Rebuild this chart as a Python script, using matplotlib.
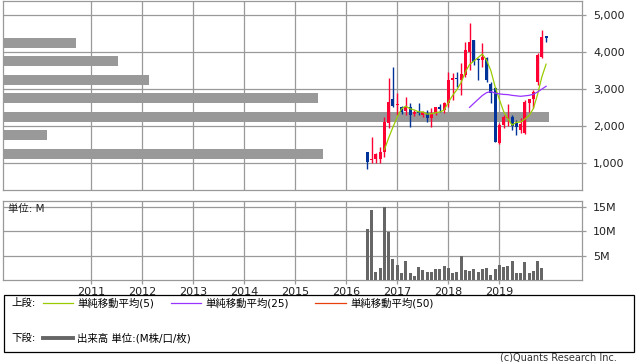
import matplotlib
matplotlib.use('Agg')
import matplotlib.pyplot as plt
import numpy as np
import pandas as pd
from matplotlib.patches import Rectangle
from matplotlib.lines import Line2D

plt.rcParams['font.family'] = ['DejaVu Sans', 'Noto Sans CJK JP']

# ---------------- data ----------------
months = pd.period_range('2016-06', '2019-12', freq='M')
opens  = [1300, 1090, 1100, 1100, 1310, 2070, 2730, 2560, 2520, 2410, 2510, 2320, 2390, 2300, 2340,
          2210, 2350, 2510, 2430, 2610, 3250, 3300, 3240, 3380, 4010, 4330, 3790, 3780, 3830, 3140,
          3020, 1530, 2030, 2220, 2250, 2090, 1880, 1800, 2610, 2720, 3200, 3860, 4410]
highs  = [1310, 1710, 1270, 1440, 2250, 3290, 3600, 2880, 2550, 2790, 2610, 2430, 2610, 2410, 2430,
          2480, 2510, 2600, 2660, 3470, 3420, 3470, 3690, 4280, 4780, 4330, 3840, 4250, 3860, 3200,
          3050, 2070, 2300, 2600, 2300, 2160, 2210, 2690, 2730, 2960, 3960, 4600, 4430]
lows   = [840, 990, 990, 1000, 1170, 1940, 2500, 2300, 2330, 2300, 1960, 2270, 2300, 2250, 2120,
          1960, 2300, 2390, 2360, 2520, 2700, 3060, 2840, 3330, 3510, 3650, 3240, 3600, 3200, 2610,
          1570, 1510, 1940, 2000, 1890, 1760, 1800, 1780, 2390, 2480, 3110, 3830, 4280]
closes = [1040, 1110, 1240, 1300, 2120, 2660, 2540, 2600, 2390, 2500, 2300, 2380, 2340, 2380, 2210,
          2350, 2500, 2450, 2630, 3240, 3290, 3280, 3410, 4050, 4280, 3740, 3770, 3870, 3240, 2880,
          1580, 2030, 2250, 2250, 2000, 1980, 2050, 2660, 2720, 2930, 3920, 4400, 4390]
volume_m = [10.4, 14.3, 1.6, 2.4, 14.9, 9.9, 4.3, 3.1, 1.4, 3.9, 1.4, 0.8, 2.7, 2.0, 1.6,
            1.6, 2.2, 2.2, 2.9, 2.4, 1.4, 1.6, 4.9, 2.0, 1.8, 2.2, 1.6, 2.2, 2.4, 1.0,
            2.2, 3.1, 2.7, 2.9, 3.9, 1.4, 1.4, 3.7, 1.4, 1.8, 3.9, 2.4, 0.1]

band_prices = [4250, 3750, 3250, 2750, 2250, 1750, 1250]
band_volume = [6.5, 10.2, 12.9, 27.9, 48.3, 3.9, 28.3]

years = list(range(2011, 2020))
year_labels = [str(y) for y in years]
price_ticks = [1000, 2000, 3000, 4000, 5000]
price_labels = ['1,000', '2,000', '3,000', '4,000', '5,000']
vol_ticks = [5, 10, 15]
vol_labels = ['5M', '10M', '15M']

ma_labels = ['単純移動平均(5)', '単純移動平均(25)', '単純移動平均(50)']
vol_legend = '出来高 単位:(M株/口/枚)'

# ---------------- styles ----------------
W, H = 638, 362
UP = '#ff0033'
DOWN = '#003399'
MA5_C = '#99cc00'
MA25_C = '#9933ff'
MA50_C = '#e8400c'
GRID = '#999999'
BAND = '#999999'
VOLC = '#666666'

x = np.array([p.year + (p.month - 1) / 12 for p in months])
o = np.array(opens); h = np.array(highs); l = np.array(lows); c = np.array(closes)
ma5 = pd.Series(c).rolling(5).mean()
ma25 = pd.Series(c).rolling(25).mean()

fig = plt.figure(figsize=(W / 100, H / 100), dpi=100)

def fx(px):
    return px / W

def fy(py):
    return 1 - py / H

L, R = 3, 582
ax = fig.add_axes([fx(L), fy(190), fx(R - L), (190 - 1) / H])
axv = fig.add_axes([fx(L), fy(280), fx(R - L), (280 - 201) / H])

xlim = (2009.275, 2020.62)
bw = 3 / 51.0

for a in (ax, axv):
    a.set_xlim(*xlim)
    for s in a.spines.values():
        s.set_color(GRID)
        s.set_linewidth(0.9)
    a.set_xticks(years)
    a.grid(True, color=GRID, linewidth=0.9, zorder=0)
    a.set_axisbelow(True)
    a.tick_params(colors=GRID, labelcolor='#222222', length=3, width=0.9)

# top panel
ax.set_ylim(270, 5378)
ax.yaxis.tick_right()
ax.set_yticks(price_ticks)
ax.set_yticklabels(price_labels, fontsize=8)
ax.tick_params(axis='y', pad=5)
ax.tick_params(axis='x', length=0, labelbottom=False)

# price band volume (horizontal bars)
axb = ax.twiny()
axb.set_xlim(0, 48.3 / 0.943)
axb.set_ylim(ax.get_ylim())
axb.barh(band_prices, band_volume, height=262, color=BAND, zorder=2, linewidth=0)
axb.axis('off')

# candles and moving averages
axk = fig.add_axes(ax.get_position(), sharey=ax, frameon=False)
axk.set_xlim(*xlim)
axk.set_ylim(270, 5378)
axk.axis('off')
cols = np.where(c >= o, UP, DOWN)
axk.vlines(x, l, h, colors=cols, linewidth=1.0, zorder=3)
bottoms = np.minimum(o, c)
heights = np.maximum(np.abs(c - o), 30)
axk.bar(x, heights, bottom=bottoms, width=bw, color=cols, linewidth=0, zorder=4)
axk.plot(x, ma5, color=MA5_C, linewidth=0.9, zorder=5)
axk.plot(x, ma25, color=MA25_C, linewidth=0.9, zorder=5)

# volume panel
axv.set_ylim(0, 16.23)
axv.yaxis.tick_right()
axv.set_yticks(vol_ticks)
axv.set_yticklabels(vol_labels, fontsize=8)
axv.tick_params(axis='y', pad=5)
axv.set_xticklabels(year_labels, fontsize=8)
axv.tick_params(axis='x', pad=2)
axv.bar(x, volume_m, width=bw, color=VOLC, linewidth=0, zorder=3)
fig.text(fx(8), fy(209), '単位: M', fontsize=7.5, va='center', ha='left', color='#222222')

# legend box
fig.add_artist(Rectangle((fx(4), fy(352)), fx(630), (352 - 295) / H, transform=fig.transFigure,
                         fill=False, edgecolor='black', linewidth=0.9))
ry1, ry2 = 303, 338
fig.text(fx(11), fy(ry1), '上段:', fontsize=7.5, va='center', ha='left')
fig.text(fx(11), fy(ry2), '下段:', fontsize=7.5, va='center', ha='left')
for (x0, x1, tx, col, lab) in [(43, 73, 77, MA5_C, ma_labels[0]),
                               (171, 201, 205, MA25_C, ma_labels[1]),
                               (315, 346, 350, MA50_C, ma_labels[2])]:
    fig.add_artist(Line2D([fx(x0), fx(x1)], [fy(ry1), fy(ry1)], color=col, linewidth=0.9,
                          transform=fig.transFigure))
    fig.text(fx(tx), fy(ry1), lab, fontsize=7.5, va='center', ha='left')
fig.add_artist(Line2D([fx(43), fx(73)], [fy(ry2), fy(ry2)], color=VOLC, linewidth=2.8,
                      transform=fig.transFigure))
fig.text(fx(77), fy(ry2), vol_legend, fontsize=7.5, va='center', ha='left')
fig.text(fx(617), fy(357), '(c)Quants Research Inc.', fontsize=7, va='center', ha='right',
         color='#333333')

fig.savefig('out.png', dpi=100)
